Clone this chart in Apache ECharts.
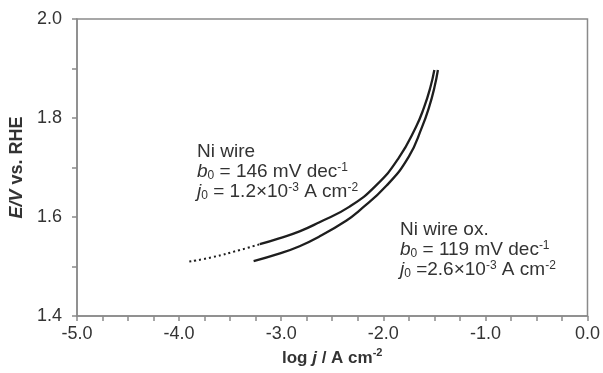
<!DOCTYPE html>
<html>
<head>
<meta charset="utf-8">
<script src="https://cdn.jsdelivr.net/npm/echarts@6/dist/echarts.min.js"></script>
<style>
html,body{margin:0;padding:0;background:#fff;}
#chart{width:603px;height:373px;}
</style>
</head>
<body>
<div id="chart"></div>
<script>
// ---- data (log j / A cm^-2, E / V vs RHE) ----
const niWireLogJ = [-3.90, -3.67, -3.41, -3.21, -3.02, -2.82, -2.63, -2.33, -2.07, -1.85, -1.68, -1.60, -1.54, -1.50];
const niWireE    = [1.510, 1.519, 1.533, 1.545, 1.557, 1.571, 1.589, 1.621, 1.664, 1.719, 1.782, 1.822, 1.861, 1.897];
const niWireDottedCount = 4; // first points drawn as a sparse, dotted trace

const niWireOxLogJ = [-3.27, -3.02, -2.82, -2.63, -2.36, -2.24, -1.97, -1.75, -1.62, -1.55, -1.50, -1.465];
const niWireOxE    = [1.511, 1.526, 1.541, 1.560, 1.593, 1.612, 1.663, 1.722, 1.782, 1.823, 1.861, 1.897];

const xTicks = {min: -5.0, max: 0.0, step: 1.0, minorSplit: 4};
const yTicks = {min: 1.4, max: 2.0, step: 0.2, minorSplit: 2};

const annotNiWire = ['Ni wire', '{i|b}{sub|0} = 146 mV dec{sup|-1}', '{i|j}{sub|0} = 1.2×10{sup|-3} A cm{sup|-2}'];
const annotNiWireOx = ['Ni wire ox.', '{i|b}{sub|0} = 119 mV dec{sup|-1}', '{i|j}{sub|0} =2.6×10{sup|-3} A cm{sup|-2}'];

// ---- chart ----
const FONT = '"Liberation Sans", Arial, Helvetica, sans-serif';
const AXIS_COLOR = '#8a8a8a';
const TEXT_COLOR = '#333333';
const LINE_COLOR = '#1e1e1e';

function zip(xs, ys) { return xs.map((x, i) => [x, ys[i]]); }
const niWirePts = zip(niWireLogJ, niWireE);
const niWireOxPts = zip(niWireOxLogJ, niWireOxE);

const annRich = {
  i: {fontStyle: 'italic', fontSize: 19, fontFamily: FONT, color: TEXT_COLOR, lineHeight: 20},
  sub: {fontSize: 12, fontFamily: FONT, color: TEXT_COLOR, lineHeight: 12, verticalAlign: 'bottom'},
  sup: {fontSize: 12, fontFamily: FONT, color: TEXT_COLOR, lineHeight: 12, verticalAlign: 'top'}
};

const chart = echarts.init(document.getElementById('chart'), null, {renderer: 'canvas'});
chart.setOption({
  animation: false,
  backgroundColor: '#ffffff',
  grid: {left: 77, right: 14, top: 19, bottom: 57, show: true, borderColor: AXIS_COLOR, borderWidth: 1.5, containLabel: false},
  title: [
    {text: annotNiWire.join('\n'), left: 197, top: 142, padding: 0,
     textStyle: {fontSize: 19, fontWeight: 'normal', fontFamily: FONT, color: TEXT_COLOR, lineHeight: 20, rich: annRich}},
    {text: annotNiWireOx.join('\n'), left: 400, top: 220, padding: 0,
     textStyle: {fontSize: 19, fontWeight: 'normal', fontFamily: FONT, color: TEXT_COLOR, lineHeight: 20, rich: annRich}}
  ],
  xAxis: {
    type: 'value', min: xTicks.min, max: xTicks.max, interval: xTicks.step,
    name: '{b|log }{bi|j}{b| / A cm}{bs|-2}', nameLocation: 'middle', nameGap: 27,
    nameTextStyle: {
      rich: {
        b: {fontWeight: 'bold', fontSize: 17, fontFamily: FONT, color: TEXT_COLOR, lineHeight: 20},
        bi: {fontWeight: 'bold', fontStyle: 'italic', fontSize: 17, fontFamily: FONT, color: TEXT_COLOR, lineHeight: 20},
        bs: {fontWeight: 'bold', fontSize: 11, fontFamily: FONT, color: TEXT_COLOR, lineHeight: 12, verticalAlign: 'top'}
      }
    },
    axisLine: {show: true, onZero: false, lineStyle: {color: AXIS_COLOR, width: 1.5}},
    axisTick: {show: true, inside: false, length: 5, lineStyle: {color: AXIS_COLOR, width: 1.5}},
    minorTick: {show: true, splitNumber: xTicks.minorSplit, length: 5, lineStyle: {color: AXIS_COLOR, width: 1.5}},
    splitLine: {show: false},
    axisLabel: {fontSize: 18, fontFamily: FONT, color: TEXT_COLOR, margin: 9, formatter: v => v.toFixed(1)}
  },
  yAxis: {
    type: 'value', min: yTicks.min, max: yTicks.max, interval: yTicks.step,
    name: '{bi|E}{bi|/V}{b| vs. RHE}', nameLocation: 'middle', nameGap: 46, nameRotate: 90,
    nameTextStyle: {
      rich: {
        b: {fontWeight: 'bold', fontSize: 18, fontFamily: FONT, color: TEXT_COLOR},
        bi: {fontWeight: 'bold', fontStyle: 'italic', fontSize: 18, fontFamily: FONT, color: TEXT_COLOR}
      }
    },
    axisLine: {show: true, onZero: false, lineStyle: {color: AXIS_COLOR, width: 1.5}},
    axisTick: {show: true, inside: false, length: 5, lineStyle: {color: AXIS_COLOR, width: 1.5}},
    minorTick: {show: true, splitNumber: yTicks.minorSplit, length: 5, lineStyle: {color: AXIS_COLOR, width: 1.5}},
    splitLine: {show: false},
    axisLabel: {fontSize: 18, fontFamily: FONT, color: TEXT_COLOR, margin: 15, formatter: v => v.toFixed(1)}
  },
  series: [
    {type: 'line', name: 'Ni wire (sparse)', data: niWirePts.slice(0, niWireDottedCount), smooth: 0.5,
     symbol: 'none', lineStyle: {color: LINE_COLOR, width: 2, type: [2, 3]}},
    {type: 'line', name: 'Ni wire', data: niWirePts.slice(niWireDottedCount - 1), smooth: 0.5,
     symbol: 'none', lineStyle: {color: LINE_COLOR, width: 2.3}},
    {type: 'line', name: 'Ni wire ox.', data: niWireOxPts, smooth: 0.5,
     symbol: 'none', lineStyle: {color: LINE_COLOR, width: 2.3}}
  ]
});
</script>
</body>
</html>
